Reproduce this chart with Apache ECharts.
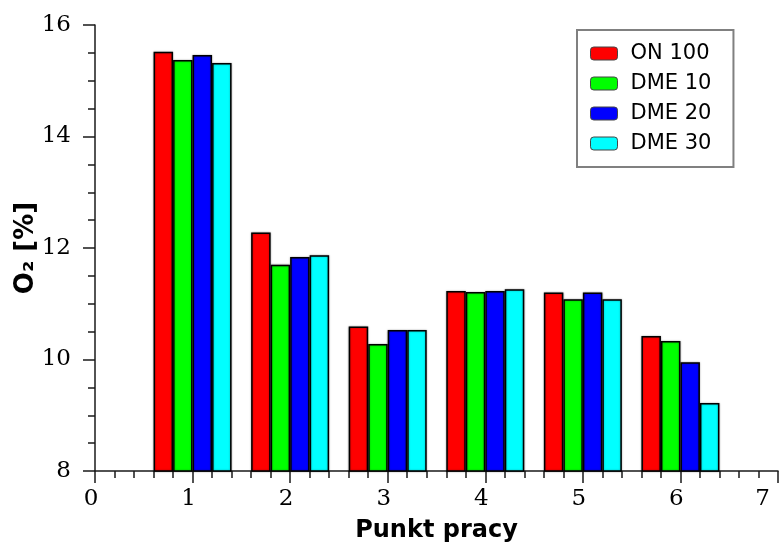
<!DOCTYPE html>
<html>
<head>
<meta charset="utf-8">
<script src="https://cdn.jsdelivr.net/npm/echarts@6/dist/echarts.min.js"></script>
<style>html,body{margin:0;padding:0;background:#fff}#c{width:782px;height:548px}</style>
</head>
<body>
<div id="c"></div>
<script>
const points = [1, 2, 3, 4, 5, 6];
const seriesNames = ['ON 100', 'DME 10', 'DME 20', 'DME 30'];
const on100 = [15.52, 12.28, 10.59, 11.23, 11.20, 10.42];
const dme10 = [15.37, 11.70, 10.28, 11.21, 11.08, 10.33];
const dme20 = [15.46, 11.84, 10.53, 11.23, 11.20, 9.95];
const dme30 = [15.32, 11.87, 10.53, 11.26, 11.08, 9.22];
const colors = ['#ff0000', '#00ff00', '#0000ff', '#00ffff'];
const xTicks = { min: 0, max: 7, interval: 1 };
const yTicks = { min: 8, max: 16, interval: 2 };

const allValues = [on100, dme10, dme20, dme30];
const chart = echarts.init(document.getElementById('c'), null, { renderer: 'canvas' });
const axisColor = '#1a1a1a';
chart.setOption({
  animation: false,
  backgroundColor: '#ffffff',
  grid: { left: 95, right: 4, top: 25, bottom: 77, containLabel: false, outerBoundsMode: 'none' },
  legend: {
    orient: 'vertical',
    left: 577,
    top: 30,
    padding: [13, 22, 13, 13],
    itemWidth: 27,
    itemHeight: 13,
    itemGap: 9,
    borderColor: '#808080',
    borderWidth: 2,
    icon: 'roundRect',
    itemStyle: { borderColor: '#444', borderWidth: 1 },
    textStyle: { fontFamily: 'DejaVu Sans', fontSize: 21, color: '#000', padding: [0, 0, 0, 8] },
    data: seriesNames
  },
  xAxis: {
    type: 'value',
    min: xTicks.min, max: xTicks.max, interval: xTicks.interval,
    name: 'Punkt pracy',
    nameLocation: 'middle',
    nameMoveOverlap: false,
    nameGap: 48,
    nameTextStyle: { fontFamily: 'DejaVu Sans', fontWeight: 'bold', fontSize: 24, color: '#000' },
    axisLine: { show: true, onZero: false, lineStyle: { color: axisColor, width: 1.5 } },
    axisTick: { show: true, length: 12, lineStyle: { color: axisColor, width: 1.5 } },
    minorTick: { show: true, splitNumber: 5, length: 7, lineStyle: { color: axisColor, width: 1.5 } },
    splitLine: { show: false },
    axisLabel: { fontFamily: 'DejaVu Serif', fontSize: 23, color: '#000', margin: 17, padding: [0, 8, 0, 0], alignMaxLabel: 'right' }
  },
  yAxis: {
    type: 'value',
    min: yTicks.min, max: yTicks.max, interval: yTicks.interval,
    name: 'O₂ [%]',
    nameLocation: 'middle',
    nameMoveOverlap: false,
    nameGap: 56,
    nameTextStyle: { fontFamily: 'DejaVu Sans', fontWeight: 'bold', fontSize: 26, color: '#000' },
    axisLine: { show: true, lineStyle: { color: axisColor, width: 1.5 } },
    axisTick: { show: true, length: 12, lineStyle: { color: axisColor, width: 1.5 } },
    minorTick: { show: true, splitNumber: 4, length: 7, lineStyle: { color: axisColor, width: 1.5 } },
    splitLine: { show: false },
    axisLabel: { fontFamily: 'DejaVu Serif', fontSize: 23, color: '#000', margin: 24 }
  },
  series: seriesNames.map((name, s) => ({
    name: name,
    type: 'bar',
    barWidth: 19.5,
    barGap: '0%',
    itemStyle: { color: colors[s], borderColor: '#000', borderWidth: 1.5, shadowColor: 'rgba(0,0,0,0.35)', shadowBlur: 2 },
    data: points.map((p, i) => [p, allValues[s][i]])
  }))
});
</script>
</body>
</html>
